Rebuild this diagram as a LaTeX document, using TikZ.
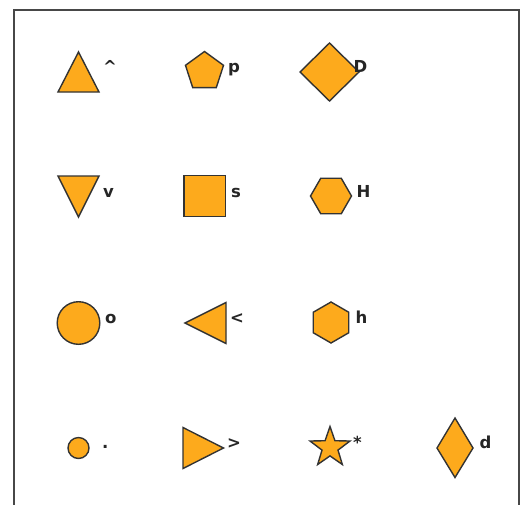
\documentclass[tikz,border=0pt]{standalone}
\usepackage{fontspec}
\setmainfont{DejaVu Sans}
\begin{document}
\begin{tikzpicture}[x=1pt,y=-1pt,
  mk/.style={fill=mkfill,draw=black!80,line width=1.4pt,line join=miter},
  lab/.style={anchor=base west,inner sep=0pt,font=\fontsize{16.5}{16.5}\selectfont\bfseries,text=black!85},
  framebox/.style={draw=black!72,line width=1.3pt}]
\definecolor{mkfill}{HTML}{FDAA1C}
\clip (0,0) rectangle (526,504);
\fill[white] (0,0) rectangle (526,504);
\draw[framebox] (14,10) rectangle (519,530);
% row 1
\draw[mk] (78.5,52) -- (99,92) -- (58,92) -- cycle;
\node[lab] (l1) at (103,72) {\^{}};
\draw[mk,shift={(204.5,71.5)}] (90:20pt) -- (162:20pt) -- (234:20pt) -- (306:20pt) -- (18:20pt) -- cycle;
\node[lab] (l2) at (228,72) {p};
\draw[mk] (329.5,43) -- (359,72) -- (329.5,101) -- (300,72) -- cycle;
\node[lab] (l3) at (353.5,72) {D};
% row 2
\draw[mk] (58,176) -- (99,176) -- (78.5,217) -- cycle;
\node[lab] (l4) at (103,197) {v};
\draw[mk] (184,175.5) rectangle (225.5,216.5);
\node[lab] (l5) at (231,197) {s};
\draw[mk,shift={(331,196)}] (0:20.5pt) -- (60:20.5pt) -- (120:20.5pt) -- (180:20.5pt) -- (240:20.5pt) -- (300:20.5pt) -- cycle;
\node[lab] (l6) at (356.5,197) {H};
% row 3
\draw[mk] (78.5,323) circle[radius=21.3pt];
\node[lab] (l7) at (105,323) {o};
\draw[mk] (185,323) -- (226,302.5) -- (226,343.5) -- cycle;
\node[lab] (l8) at (230,323) {<};
\draw[mk,shift={(331,322.5)}] (90:20.5pt) -- (150:20.5pt) -- (210:20.5pt) -- (270:20.5pt) -- (330:20.5pt) -- (30:20.5pt) -- cycle;
\node[lab] (l9) at (355.5,323) {h};
% row 4
\draw[mk] (78.5,448) circle[radius=10.5pt];
\node[lab] (l10) at (102,448) {.};
\draw[mk] (183,427.5) -- (223.5,448) -- (183,468.5) -- cycle;
\node[lab] (l11) at (227,448) {>};
\draw[mk,shift={(330,447.5)}] (90:21pt) -- (126:8.4pt) -- (162:21pt) -- (198:8.4pt) -- (234:21pt) -- (270:8.4pt) -- (306:21pt) -- (342:8.4pt) -- (18:21pt) -- (54:8.4pt) -- cycle;
\node[lab] (l12) at (353,448) {*};
\draw[mk] (455,418) -- (473,448) -- (455,477.5) -- (437,448) -- cycle;
\node[lab] (l13) at (479.5,448) {d};
\end{tikzpicture}
\end{document}
